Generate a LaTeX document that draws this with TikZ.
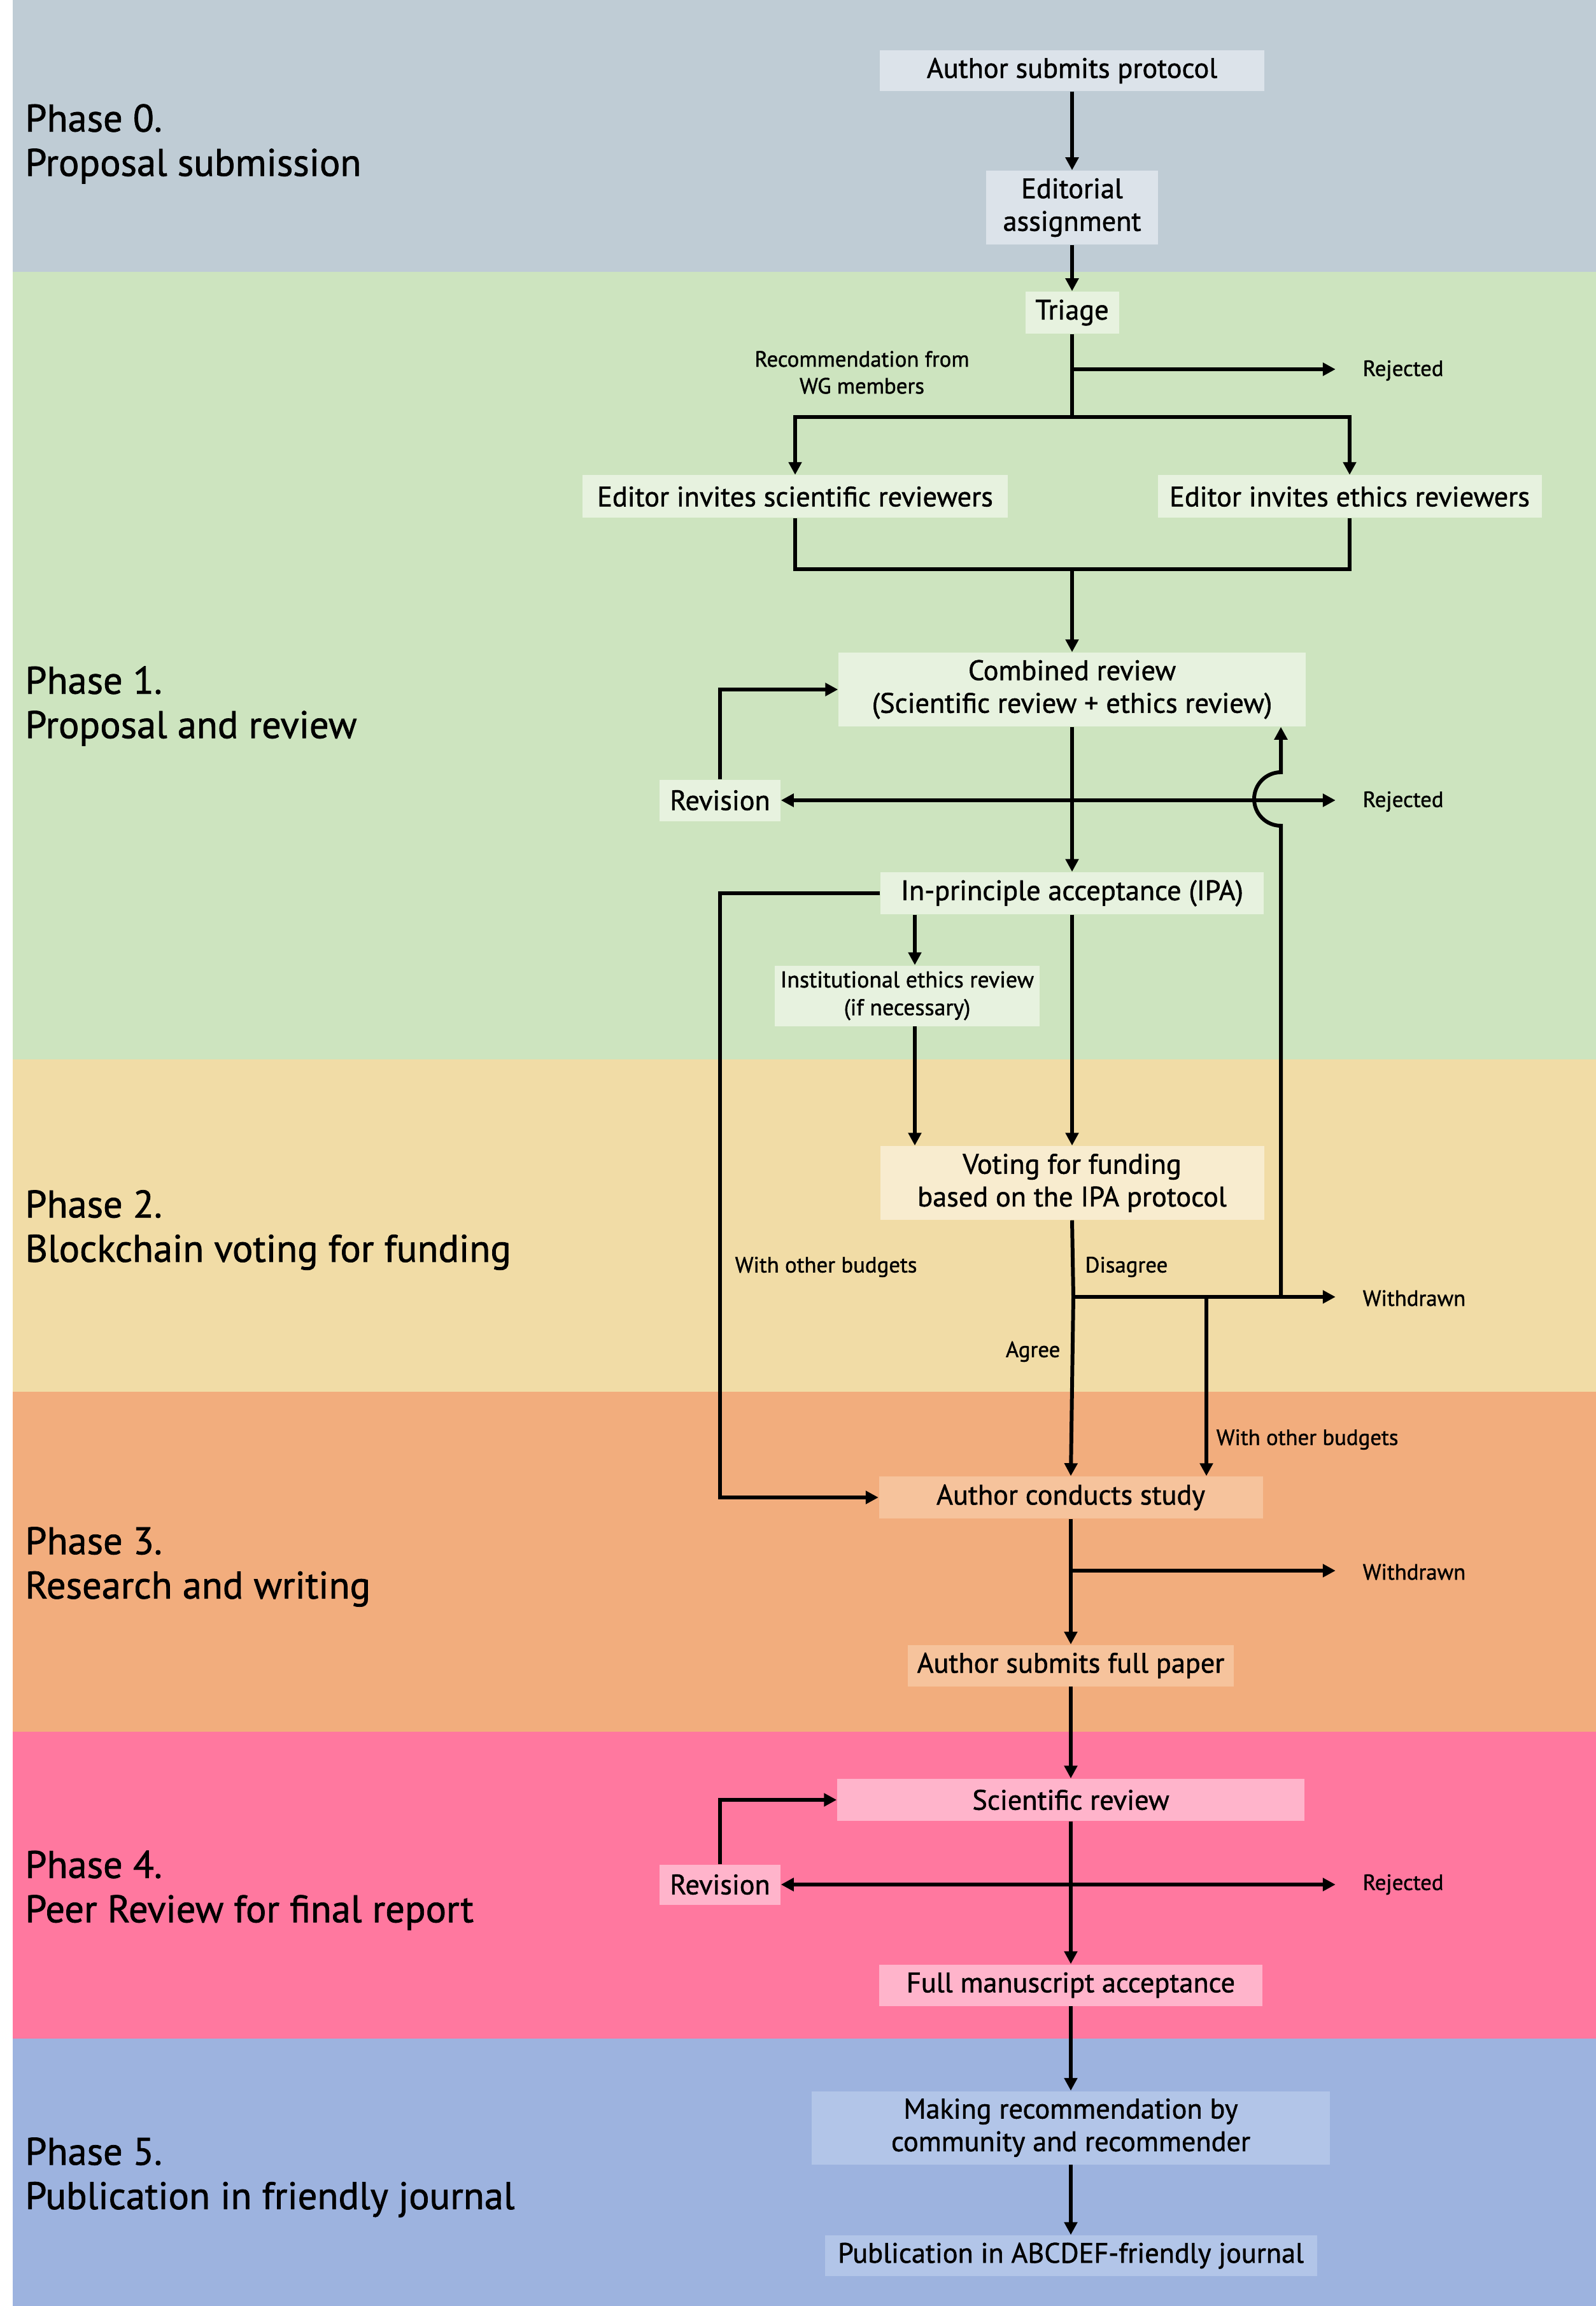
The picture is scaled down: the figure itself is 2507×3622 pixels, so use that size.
\documentclass[tikz,border=0pt]{standalone}
\usepackage{fontspec}
\setmainfont{PT Sans}[FakeBold=1.2]
\usetikzlibrary{arrows.meta,calc}
\definecolor{bz}{HTML}{BFCCD5}\definecolor{nz}{HTML}{DCE3EA}
\definecolor{bo}{HTML}{CDE4BF}\definecolor{no}{HTML}{E7F2DF}
\definecolor{bt}{HTML}{F1DCA6}\definecolor{nt}{HTML}{F8ECCF}
\definecolor{bh}{HTML}{F2AD7D}\definecolor{nh}{HTML}{F6C39C}
\definecolor{bf}{HTML}{FF789F}\definecolor{nf}{HTML}{FFB4CB}
\definecolor{bv}{HTML}{9DB3DF}\definecolor{nv}{HTML}{B2C5E8}
\begin{document}
\begin{tikzpicture}[x=0.01cm,y=-0.01cm,
  box/.style n args={3}{draw=none,fill=#3,inner sep=0pt,align=center,
     minimum width=#1*0.01cm,minimum height=#2*0.01cm,
     font=\fontsize{12.6}{14.6}\selectfont},
  lbl/.style={inner sep=0pt,align=center,font=\fontsize{9.9}{12}\selectfont},
  phase/.style={anchor=west,inner sep=0pt,align=left,font=\fontsize{17.2}{19.8}\selectfont},
  conn/.style={line width=1.7pt},
  arr/.style={conn,-{Triangle[length=5.7pt,width=5.7pt]}}]
\useasboundingbox (0,0) rectangle (2507,3622);
\fill[white] (0,0) rectangle (2507,3622);
% bands
\fill[bz] (20,0) rectangle (2507,427);
\fill[bo] (20,427) rectangle (2507,1664);
\fill[bt] (20,1664) rectangle (2507,2186);
\fill[bh] (20,2186) rectangle (2507,2720);
\fill[bf] (20,2720) rectangle (2507,3202);
\fill[bv] (20,3202) rectangle (2507,3622);
% phase labels
\node[phase] (p0) at (39,226) {Phase 0.\\Proposal submission};
\node[phase] (p1) at (39,1109) {Phase 1.\\Proposal and review};
\node[phase] (p2) at (39,1932) {Phase 2.\\Blockchain voting for funding};
\node[phase] (p3) at (39,2461) {Phase 3.\\Research and writing};
\node[phase] (p4) at (39,2969) {Phase 4.\\Peer Review for final report};
\node[phase] (p5) at (39,3420) {Phase 5.\\Publication in friendly journal};
% nodes
\node[box={604}{64}{nz}] (asp) at (1684,111) {Author submits protocol};
\node[box={270}{116}{nz}] (ea) at (1684,326) {Editorial\\assignment};
\node[box={147}{66}{no}] (tri) at (1684,491) {Triage};
\node[box={668}{67}{no}] (esci) at (1249,780) {Editor invites scientific reviewers};
\node[box={603}{67}{no}] (eeth) at (2120,780) {Editor invites ethics reviewers};
\node[box={734}{116}{no}] (comb) at (1684,1083) {Combined review\\(Scientific review + ethics review)};
\node[box={190}{65}{no}] (rev1) at (1131,1257) {Revision};
\node[box={602}{66}{no}] (ipa) at (1684,1403) {In-principle acceptance (IPA)};
\node[box={416}{95}{no},font=\fontsize{10.2}{12.4}\selectfont] (inst) at (1425,1564) {Institutional ethics review\\(if necessary)};
\node[box={603}{116}{nt}] (vote) at (1684,1858) {Voting for funding\\based on the IPA protocol};
\node[box={603}{66}{nh}] (acs) at (1682,2352) {Author conducts study};
\node[box={512}{65}{nh}] (asfp) at (1682,2616) {Author submits full paper};
\node[box={734}{66}{nf}] (sci) at (1682,2827) {Scientific review};
\node[box={190}{63}{nf}] (rev2) at (1131,2960) {Revision};
\node[box={602}{65}{nf}] (fma) at (1682,3118) {Full manuscript acceptance};
\node[box={814}{115}{nv}] (mr) at (1682,3342) {Making recommendation by\\community and recommender};
\node[box={773}{64}{nv}] (pub) at (1682,3543) {Publication in ABCDEF-friendly journal};
% small labels
\node[lbl,anchor=west] (rej1) at (2140,582) {Rejected};
\node[lbl] (rec) at (1354,585) {Recommendation from\\WG members};
\node[lbl,anchor=west] (rej2) at (2140,1259) {Rejected};
\node[lbl,anchor=west] (wd1) at (2140,2039) {Withdrawn};
\node[lbl,anchor=west] (wob1) at (1154,1990) {With other budgets};
\node[lbl,anchor=west] (dis) at (1704,1990) {Disagree};
\node[lbl,anchor=east] (agr) at (1666,2123) {Agree};
\node[lbl,anchor=west] (wob2) at (1910,2261) {With other budgets};
\node[lbl,anchor=west] (wd2) at (2140,2469) {Withdrawn};
\node[lbl,anchor=west] (rej3) at (2140,2960) {Rejected};
% coordinates
\coordinate (r1) at (1684,580);
\coordinate (j1) at (1684,655);
\coordinate (j2) at (1684,894);
\coordinate (c1) at (1684,1257);
\coordinate (xa) at (1437,0);
\coordinate (j3) at (1686,2037);
\coordinate (j4) at (1895,2037);
\coordinate (j5) at (2012,2037);
\coordinate (c3) at (1682,2467);
\coordinate (c4) at (1682,2960);
% connectors phase 0
\draw[arr] (asp) -- (ea);
\draw[arr] (ea) -- (tri);
% phase 1
\draw[conn] (tri.south) -- (j1);
\draw[arr] (r1) -- ([xshift=-12]rej1.west |- r1);
\draw[arr] (j1) -| (esci.north);
\draw[arr] (j1) -| (eeth.north);
\draw[conn] (esci.south) |- (j2) -| (eeth.south);
\draw[arr] (j2) -- (comb.north);
\draw[arr] (comb) -- (ipa);
\draw[arr] (c1) -- (rev1.east);
\draw[arr] (c1) -- ([xshift=-12]rej2.west |- c1);
\draw[arr] (rev1.north) |- (comb.west);
\draw[arr] (ipa.west) -- (ipa.west -| rev1.center) |- (acs.west);
\draw[arr] (ipa.south -| xa) -- (inst.north -| xa);
\draw[arr] (inst.south -| xa) -- (vote.north -| xa);
\draw[arr] (ipa) -- (vote);
% phase 2
\draw[conn] (vote.south) -- (j3);
\draw[arr] (j3) -- (acs.north);
\draw[arr] (j3) -- ([xshift=-12]wd1.west |- j3);
\draw[arr] (j4) -- (acs.north -| j4);
\draw[arr] (j5) -- (2012,1297) arc[start angle=-90,end angle=-270,radius=0.42cm] -- (comb.south -| j5);
% phase 3
\draw[arr] (acs) -- (asfp);
\draw[arr] (c3) -- ([xshift=-12]wd2.west |- c3);
\draw[arr] (asfp) -- (sci);
% phase 4
\draw[arr] (sci) -- (fma);
\draw[arr] (c4) -- (rev2.east);
\draw[arr] (c4) -- ([xshift=-12]rej3.west |- c4);
\draw[arr] (rev2.north) |- (sci.west);
% phase 5
\draw[arr] (fma) -- (mr);
\draw[arr] (mr) -- (pub);
\end{tikzpicture}
\end{document}
